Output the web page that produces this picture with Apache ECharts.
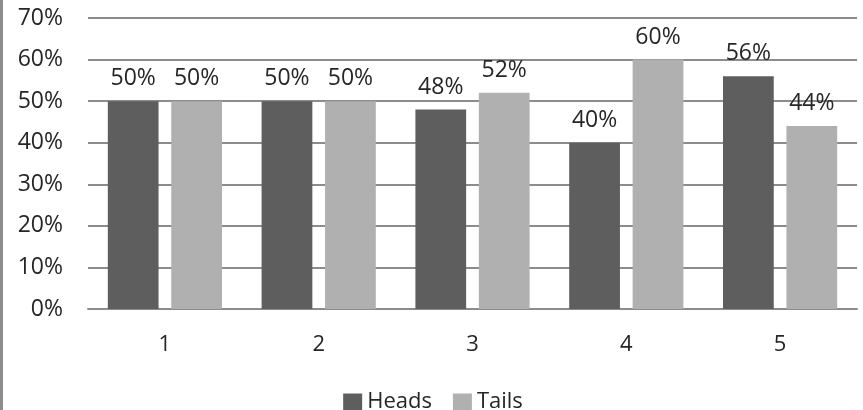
<!DOCTYPE html>
<html>
<head>
<meta charset="utf-8">
<script src="https://cdn.jsdelivr.net/npm/echarts@6/dist/echarts.min.js"></script>
<style>
  html, body { margin: 0; padding: 0; background: #fff; }
  #chart { width: 860px; height: 410px; border-left: 3px solid #8c8c8c; }
</style>
</head>
<body>
<div id="chart"></div>
<script>
const categories = ['1', '2', '3', '4', '5']
const heads = [50, 50, 48, 40, 56]
const tails = [50, 50, 52, 60, 44]

const chart = echarts.init(document.getElementById('chart'))

const labelStyle = {
  show: true,
  position: 'top',
  distance: 11,
  fontSize: 23,
  color: '#262626',
  fontFamily: 'Open Sans',
  formatter: p => p.value + '%'
}

chart.setOption({
  animation: false,
  textStyle: { fontFamily: 'Open Sans' },
  grid: { left: 85, right: 6, top: 18, bottom: 101 },
  legend: {
    top: 386,
    left: 'center',
    icon: 'rect',
    itemWidth: 19,
    itemHeight: 17,
    itemGap: 21,
    textStyle: { fontSize: 22, color: '#262626', fontFamily: 'Open Sans' },
    data: ['Heads', 'Tails']
  },
  xAxis: {
    type: 'category',
    data: categories,
    axisTick: { show: false },
    axisLine: { lineStyle: { color: '#8c8c8c', width: 2 } },
    axisLabel: { fontSize: 22, color: '#262626', margin: 25 }
  },
  yAxis: {
    type: 'value',
    min: 0,
    max: 70,
    interval: 10,
    axisLine: { show: false },
    axisTick: { show: false },
    splitLine: { lineStyle: { color: '#8c8c8c', width: 2 } },
    axisLabel: { fontSize: 23, color: '#262626', margin: 25, formatter: v => v + '%' }
  },
  series: [
    {
      name: 'Heads',
      type: 'bar',
      data: heads,
      barWidth: '33%',
      barGap: '25%',
      itemStyle: { color: '#5e5e5e' },
      label: labelStyle
    },
    {
      name: 'Tails',
      type: 'bar',
      data: tails,
      barWidth: '33%',
      itemStyle: { color: '#b0b0b0' },
      label: labelStyle
    }
  ]
})
</script>
</body>
</html>
